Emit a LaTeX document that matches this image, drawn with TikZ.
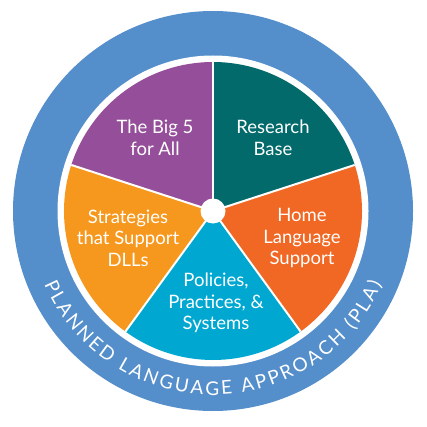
\documentclass[tikz,border=0pt]{standalone}
\usepackage{fontspec}
\setmainfont{Lato}
\usetikzlibrary{decorations.text}
\definecolor{ringblue}{HTML}{548ECB}
\definecolor{cpurple}{HTML}{954F9A}
\definecolor{cteal}{HTML}{036A6C}
\definecolor{corangered}{HTML}{F06823}
\definecolor{ccyan}{HTML}{00A8D1}
\definecolor{corange}{HTML}{F7981E}
\tikzset{
  sector/.style={draw=white, line width=2pt, line join=round},
  label/.style={text=white, align=center, inner sep=0pt, font=\fontsize{18.5}{21.5}\selectfont}
}
\newcommand{\ringfont}{\fontsize{19}{19}\selectfont}
\begin{document}
\begin{tikzpicture}[x=1pt,y=1pt]
\useasboundingbox (0,0) rectangle (427,426);
\coordinate (C) at (213,215);
\fill[ringblue] (C) circle (200);
\fill[white] (C) circle (155.5);
\def\R{149}
\fill[cteal] (C) -- ++(18:\R) arc (18:90:\R) -- cycle;
\fill[corangered] (C) -- ++(-54:\R) arc (-54:18:\R) -- cycle;
\fill[ccyan] (C) -- ++(-126:\R) arc (-126:-54:\R) -- cycle;
\fill[corange] (C) -- ++(162:\R) arc (162:234:\R) -- cycle;
\fill[cpurple] (C) -- ++(90:\R) arc (90:162:\R) -- cycle;
\draw[sector] (C) -- ++(18:\R);
\draw[sector] (C) -- ++(90:\R);
\draw[sector] (C) -- ++(162:\R);
\draw[sector] (C) -- ++(234:\R);
\draw[sector] (C) -- ++(-54:\R);
\fill[white] (C) circle (12.5);
\node[label] (big5) at (155,288) {The Big 5\\for All};
\node[label] (research) at (273,288) {Research\\Base};
\node[label] (home) at (302,188) {Home\\Language\\Support};
\node[label] (strat) at (128,188) {Strategies\\that Support\\DLLs};
\node[label] (policies) at (216,123) {Policies,\\Practices, \&\\Systems};
\path[decorate, decoration={text along path, text={|\ringfont|PLANNED LANGUAGE APPROACH (PLA)}, text color=white, text align={fit to path}}]
  (C) ++(203.5:184) arc (203.5:336.5:184);
\end{tikzpicture}
\end{document}
